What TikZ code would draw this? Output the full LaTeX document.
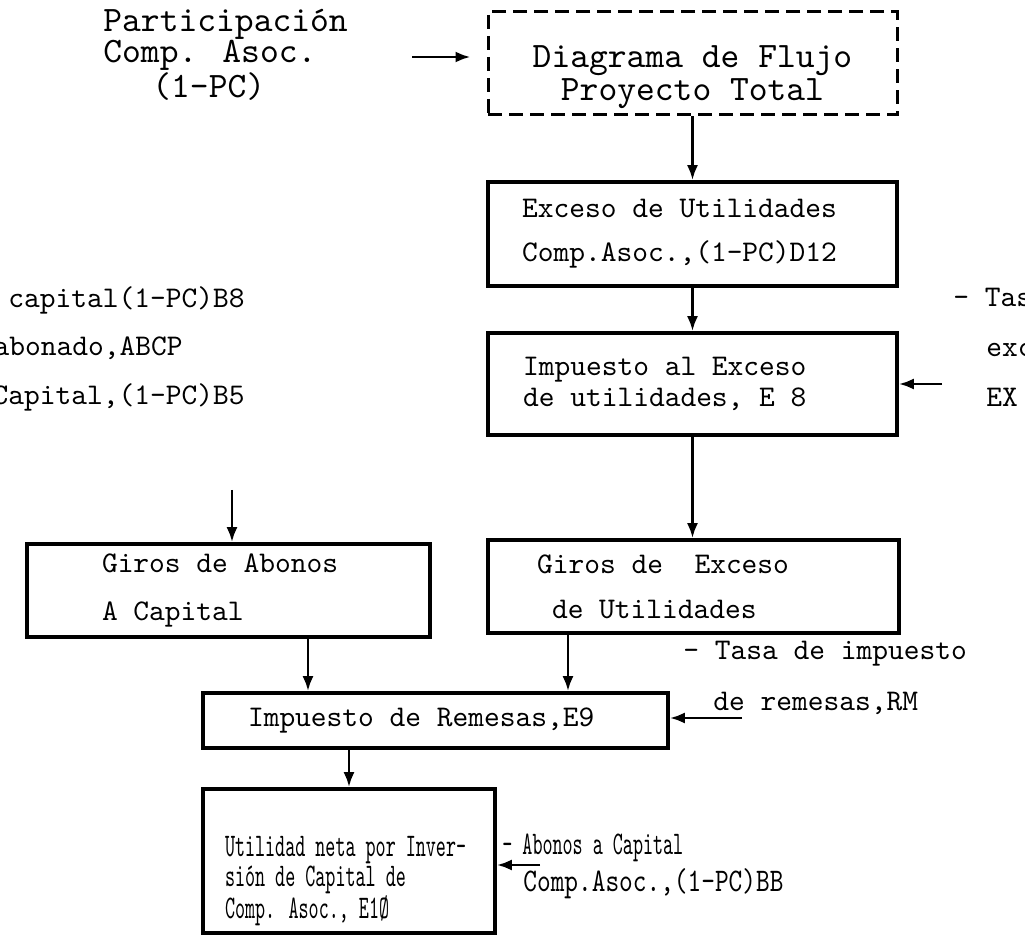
\documentclass[tikz,border=0pt]{standalone}
\usepackage{fontspec}
\newfontfamily\maq[WordSpace={1,0,0}]{lmmono10-regular.otf}
\newfontfamily\maqest[FakeStretch=0.58, WordSpace={1,0,0}]{lmmono10-regular.otf}
\newfontfamily\maqmed[FakeStretch=0.79, WordSpace={1,0,0}]{lmmono10-regular.otf}
\usetikzlibrary{arrows.meta,positioning}
\tikzset{
  caja/.style={draw, line width=1.8pt, inner sep=0pt, align=flush left,
               font=\maq\fontsize{15}{#1}\selectfont},
  caja/.default=16,
  cajapunt/.style={draw, line width=1.5pt, dash pattern=on 7pt off 3.5pt,
                   inner sep=0pt, align=center, font=\maq\fontsize{17.9}{16.5}\selectfont},
  texto/.style={inner sep=0pt, align=left, font=\maq\fontsize{15}{#1}\selectfont},
  texto/.default=16,
  flecha/.style={line width=1.4pt, -{Latex[length=7.5pt,width=5.5pt]}},
}

\begin{document}
\begin{tikzpicture}[x=0.5pt, y=-0.5pt]
\useasboundingbox (0,0) rectangle (1025,936);
\clip (0,0) rectangle (1025,936);

% Proyecto total
\node[cajapunt, minimum width=204.5pt, minimum height=51.5pt] (diag) at (692.5,63.5)
      {\rule{0pt}{25pt}Diagrama de Flujo\\Proyecto Total};
\node[texto, anchor=west, font=\maq\fontsize{17.9}{15.5}\selectfont] (part) at (103,55)
      {Participación\\Comp. Asoc.\\\hspace*{24.5pt}(1-PC)};
\coordinate (partini) at (412,57);

% Columna derecha
\node[caja=22, minimum width=204.5pt, minimum height=52pt, text width=170.5pt]
      (exceso) at (692.5,234) {Exceso de Utilidades\\Comp.Asoc.,(1-PC)D12};
\node[caja=15.5, minimum width=204.5pt, minimum height=51pt, text width=169.5pt]
      (impexc) at (692.5,384) {Impuesto al Exceso\\de utilidades, E 8};
\node[texto=25, anchor=west] (tasaex) at (953,347)
      {- Tas\\\hspace*{16.5pt}exc\\\hspace*{16.5pt}EX};
\coordinate (tasaexini) at (942,384);
\node[caja=22.5, minimum width=205.5pt, minimum height=46.5pt, text width=156.5pt]
      (giroex) at (693.5,586.5) {Giros de\ \ Exceso\\\hspace*{7.5pt}de Utilidades};

% Columna izquierda
\node[texto, anchor=east] (izq1) at (245,300) {capital(1-PC)B8};
\node[texto, anchor=east] (izq2) at (183,348) {abonado,ABCP};
\node[texto, anchor=east] (izq3) at (245,397) {Capital,(1-PC)B5};
\coordinate (abcapini) at (232,490);
\node[caja=24, minimum width=201.5pt, minimum height=46.5pt, text width=126.5pt]
      (giroab) at (228.5,590.5) {Giros de Abonos\\A Capital};

% Remesas
\node[caja, minimum width=232.5pt, minimum height=27.5pt, text width=187.5pt]
      (remesas) at (435.5,720.5) {Impuesto de Remesas,E9};
\node[texto=25.5, anchor=west] (tasarm) at (683,677.5)
      {- Tasa de impuesto\\\hspace*{15pt}de remesas,RM};
\coordinate (tasarmini) at (742,718);

% Utilidad neta
\node[caja, font=\maqest\fontsize{16.5}{15}\selectfont, minimum width=146pt,
      minimum height=72pt, text width=124pt] (utilidad) at (349,861)
      {\rule{0pt}{30pt}Utilidad neta por Inver-\\sión de Capital de\\Comp. Asoc., E1Ø};
\node[texto=18.5, anchor=west] (abonobb) at (502,866)
      {{\maqest\fontsize{16.5}{18.5}\selectfont - Abonos a Capital}\\
       \hspace*{10.5pt}{\maqmed\fontsize{16.5}{18.5}\selectfont Comp.Asoc.,(1-PC)BB}};
\coordinate (abonobbini) at (540,865);

% Flechas
\draw[flecha, shorten >=8pt] (partini) -- (partini -| diag.west);
\draw[flecha] (diag) -- (exceso);
\draw[flecha] (exceso) -- (impexc);
\draw[flecha] (tasaexini) -- (tasaexini -| impexc.east);
\draw[flecha] (impexc.south) -- (impexc.south |- giroex.north);
\draw[flecha] (abcapini) -- (abcapini |- giroab.north);
\draw[flecha] ([xshift=39.75pt]giroab.south) -- ([xshift=39.75pt]giroab.south |- remesas.north);
\draw[flecha] ([xshift=-62.75pt]giroex.south) -- ([xshift=-62.75pt]giroex.south |- remesas.north);
\draw[flecha] (tasarmini) -- (tasarmini -| remesas.east);
\draw[flecha] (utilidad.north |- remesas.south) -- (utilidad.north);
\draw[flecha] (abonobbini) -- (abonobbini -| utilidad.east);

\end{tikzpicture}
\end{document}
